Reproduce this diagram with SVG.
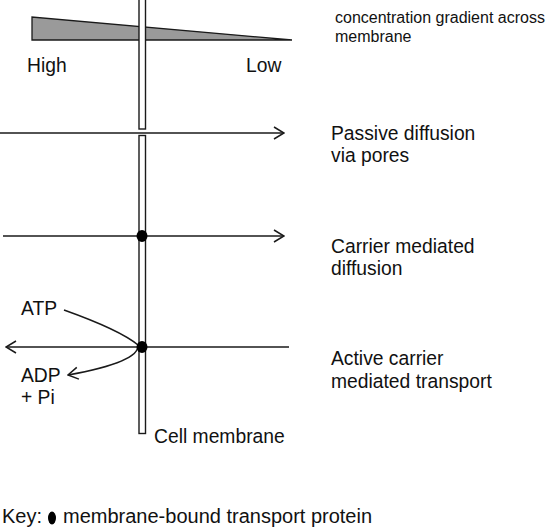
<svg xmlns="http://www.w3.org/2000/svg" width="550" height="531" viewBox="0 0 550 531">
<style>
text{font-family:"Liberation Sans",Arial,sans-serif;fill:#111;font-size:19.3px}
.sm{font-size:16px}
.key{font-size:20px}
.ln{stroke:#1a1a1a;stroke-width:1.5;fill:none}
.mem{stroke:#1a1a1a;stroke-width:1.4;fill:#fff}
</style>
<defs>
<marker id="ah" viewBox="0 0 12 14" refX="11" refY="7" markerWidth="12" markerHeight="14" markerUnits="userSpaceOnUse" orient="auto">
<path d="M1,1 L11,7 L1,13" fill="none" stroke="#1a1a1a" stroke-width="1.5"/>
</marker>
</defs>
<rect width="550" height="531" fill="#fff"/>
<g id="gradient">
<polygon points="32,17 32,40 292,40" fill="#9a9a9a" stroke="#1a1a1a" stroke-width="1.3"/>
<text x="27" y="72">High</text>
<text x="246" y="72">Low</text>
<text class="sm" x="335" y="23">concentration gradient across</text>
<text class="sm" x="335" y="42">membrane</text>
</g>
<g id="membrane">
<rect class="mem" x="139" y="-2" width="6.5" height="131"/>
<rect class="mem" x="139" y="135.5" width="6.5" height="298"/>
<text x="154" y="443">Cell membrane</text>
</g>
<g id="connectors">
<line class="ln" x1="0" y1="133" x2="284" y2="133" marker-end="url(#ah)"/>
<line class="ln" x1="3" y1="236" x2="284" y2="236" marker-end="url(#ah)"/>
<line class="ln" x1="289" y1="347" x2="6" y2="347" marker-end="url(#ah)"/>
<path class="ln" d="M64,310 Q120,330 138,345 Q140,362 68,375" marker-end="url(#ah)"/>
</g>
<g id="passive">
<text x="331" y="140">Passive diffusion</text>
<text x="331" y="162">via pores</text>
</g>
<g id="carrier">
<ellipse cx="142" cy="236" rx="5.5" ry="6" fill="#000"/>
<text x="331" y="253">Carrier mediated</text>
<text x="331" y="275">diffusion</text>
</g>
<g id="active">
<ellipse cx="142" cy="347" rx="5.5" ry="6" fill="#000"/>
<text x="21" y="315">ATP</text>
<text x="21" y="382">ADP</text>
<text x="21" y="404">+ Pi</text>
<text x="331" y="365">Active carrier</text>
<text x="331" y="388">mediated transport</text>
</g>
<g id="key">
<text class="key" x="2" y="523">Key:</text>
<ellipse cx="52" cy="518" rx="4" ry="6.5" fill="#000"/>
<text class="key" x="63" y="523">membrane-bound transport protein</text>
</g>
</svg>
